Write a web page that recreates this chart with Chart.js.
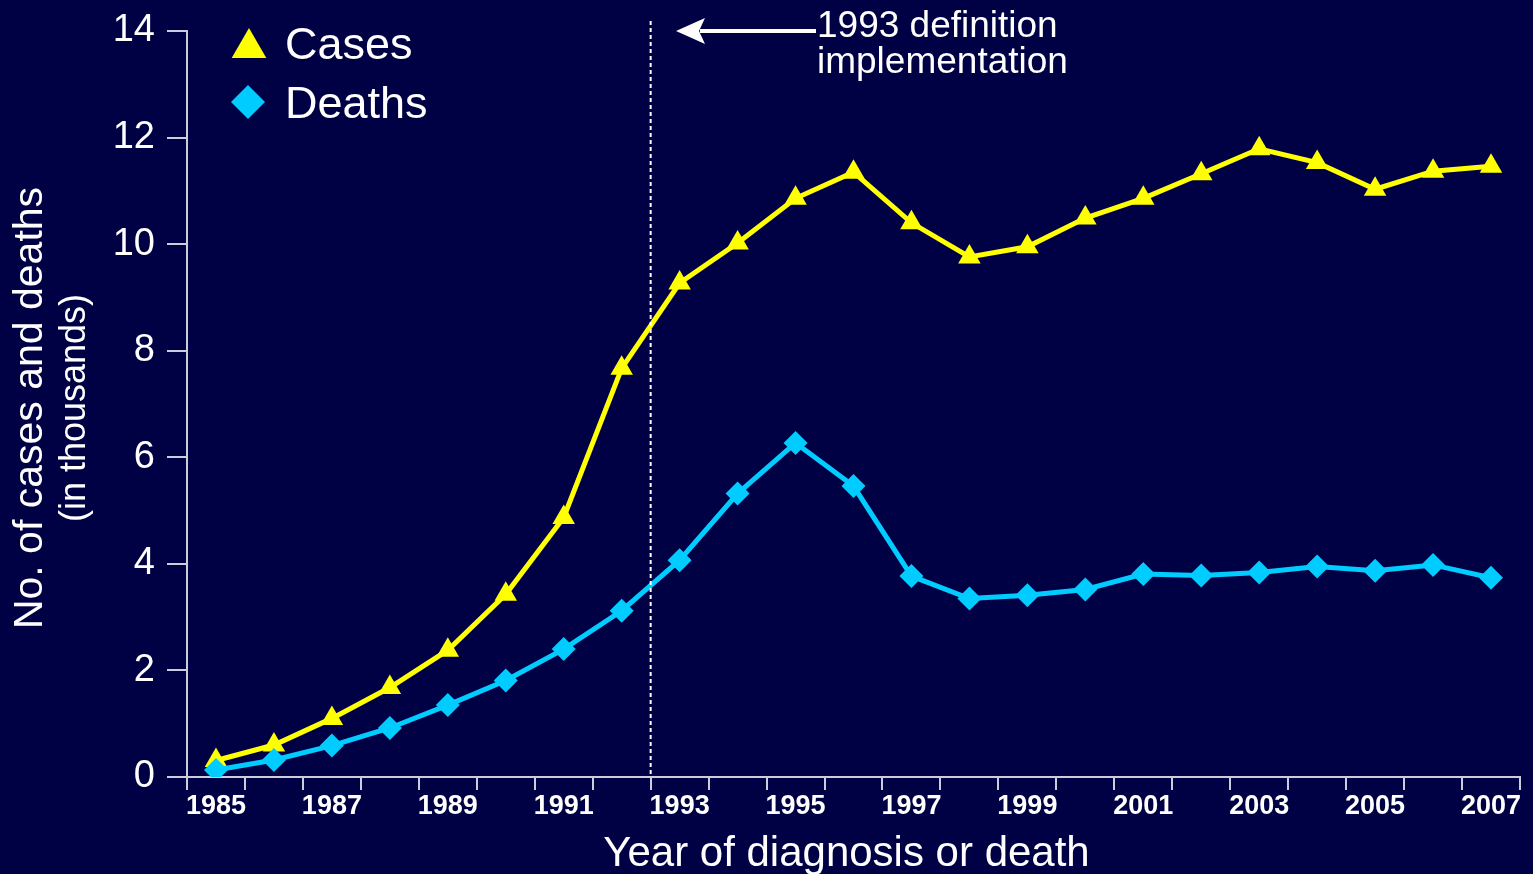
<!DOCTYPE html>
<html>
<head>
<meta charset="utf-8">
<script src="https://cdn.jsdelivr.net/npm/chart.js@4"></script>
<style>
  html, body { margin: 0; padding: 0; background: #000044; }
  canvas { display: block; }
</style>
</head>
<body>
<canvas id="c" width="1533" height="874"></canvas>
<script>
// ---- data ----
const years = ['1985','1986','1987','1988','1989','1990','1991','1992','1993','1994','1995','1996',
               '1997','1998','1999','2000','2001','2002','2003','2004','2005','2006','2007'];
const cases  = [0.31, 0.6, 1.1, 1.68, 2.38, 3.43, 4.87, 7.67, 9.27, 10.02, 10.86, 11.35,
                10.4, 9.76, 9.95, 10.49, 10.86, 11.32, 11.79, 11.53, 11.03, 11.37, 11.46];
const deaths = [0.13, 0.32, 0.59, 0.92, 1.35, 1.81, 2.4, 3.12, 4.07, 5.32, 6.27, 5.46,
                3.77, 3.35, 3.41, 3.52, 3.81, 3.78, 3.84, 3.95, 3.87, 3.98, 3.74];
const yTicks = [0, 2, 4, 6, 8, 10, 12, 14];
const seriesNames = ['Cases', 'Deaths'];
const definitionYear = '1993';
const annotationLines = ['1993 definition', 'implementation'];
const xTitle = 'Year of diagnosis or death';
const yTitleLines = ['No. of cases and deaths', '(in thousands)'];

// ---- style ----
const BG = '#000044';
const YELLOW = '#ffff00';
const CYAN = '#00ccff';
const AXIS = '#ccccdd';
const FONT = '"Liberation Sans", Arial, Helvetica, sans-serif';

function drawMarker(ctx, style, x, y, r, color) {
  ctx.save();
  ctx.fillStyle = color;
  ctx.beginPath();
  if (style === 'triangle') {
    ctx.moveTo(x, y - r);
    ctx.lineTo(x + r * Math.sin(2 * Math.PI / 3), y - r * Math.cos(2 * Math.PI / 3));
    ctx.lineTo(x + r * Math.sin(4 * Math.PI / 3), y - r * Math.cos(4 * Math.PI / 3));
  } else {
    ctx.moveTo(x - r, y);
    ctx.lineTo(x, y - r);
    ctx.lineTo(x + r, y);
    ctx.lineTo(x, y + r);
  }
  ctx.closePath();
  ctx.fill();
  ctx.restore();
}

const decor = {
  id: 'decor',
  beforeDraw(chart) {
    const ctx = chart.ctx;
    ctx.save();
    ctx.fillStyle = BG;
    ctx.fillRect(0, 0, chart.width, chart.height);
    ctx.restore();
  },
  afterDraw(chart) {
    const ctx = chart.ctx;
    const xs = chart.scales.x;
    const area = chart.chartArea;
    const idx = years.indexOf(definitionYear);
    const xd = (xs.getPixelForValue(idx - 1) + xs.getPixelForValue(idx)) / 2;

    // dashed vertical line
    ctx.save();
    ctx.strokeStyle = '#ffffff';
    ctx.lineWidth = 2;
    ctx.setLineDash([4, 3]);
    ctx.beginPath();
    ctx.moveTo(xd, 21);
    ctx.lineTo(xd, area.bottom);
    ctx.stroke();
    ctx.restore();

    // arrow
    ctx.save();
    ctx.strokeStyle = '#ffffff';
    ctx.fillStyle = '#ffffff';
    ctx.lineWidth = 4;
    ctx.beginPath();
    ctx.moveTo(700, 31);
    ctx.lineTo(816, 31);
    ctx.stroke();
    ctx.beginPath();
    ctx.moveTo(676, 31);
    ctx.lineTo(705, 18);
    ctx.lineTo(699, 31);
    ctx.lineTo(705, 44);
    ctx.closePath();
    ctx.fill();
    ctx.restore();

    // annotation text
    ctx.save();
    ctx.fillStyle = '#ffffff';
    ctx.font = '37px ' + FONT;
    ctx.textAlign = 'left';
    ctx.textBaseline = 'alphabetic';
    ctx.fillText(annotationLines[0], 817, 37);
    ctx.fillText(annotationLines[1], 817, 73);
    ctx.restore();

    // legend
    ctx.save();
    drawMarker(ctx, 'triangle', 249, 48, 20, YELLOW);
    drawMarker(ctx, 'diamond', 248, 102, 17, CYAN);
    ctx.fillStyle = '#ffffff';
    ctx.font = '45px ' + FONT;
    ctx.textBaseline = 'alphabetic';
    ctx.fillText(seriesNames[0], 285, 59);
    ctx.fillText(seriesNames[1], 285, 118);
    ctx.restore();

    // x title
    ctx.save();
    ctx.fillStyle = '#ffffff';
    ctx.font = '42px ' + FONT;
    ctx.textAlign = 'center';
    ctx.textBaseline = 'alphabetic';
    ctx.fillText(xTitle, (area.left + area.right) / 2 - 7, 866);
    ctx.restore();

    // y title
    ctx.save();
    ctx.fillStyle = '#ffffff';
    ctx.textAlign = 'center';
    ctx.textBaseline = 'middle';
    ctx.translate(31, 408);
    ctx.rotate(-Math.PI / 2);
    ctx.font = '41px ' + FONT;
    ctx.fillText(yTitleLines[0], 0, 0);
    ctx.font = '36px ' + FONT;
    ctx.fillText(yTitleLines[1], 0, 44);
    ctx.restore();
  }
};

new Chart(document.getElementById('c'), {
  type: 'line',
  data: {
    labels: years,
    datasets: [
      {
        label: seriesNames[0],
        data: cases,
        borderColor: YELLOW,
        backgroundColor: YELLOW,
        borderWidth: 5,
        pointStyle: 'triangle',
        pointRadius: 13,
        pointBorderWidth: 0,
        pointBackgroundColor: YELLOW,
        tension: 0,
        order: 2
      },
      {
        label: seriesNames[1],
        data: deaths,
        borderColor: CYAN,
        backgroundColor: CYAN,
        borderWidth: 5,
        pointStyle: 'rectRot',
        pointRadius: 12,
        pointBorderWidth: 0,
        pointBackgroundColor: CYAN,
        tension: 0,
        order: 1
      }
    ]
  },
  options: {
    responsive: false,
    animation: false,
    devicePixelRatio: 1,
    layout: { padding: { top: 31, right: 13, bottom: 0, left: 0 } },
    plugins: { legend: { display: false }, tooltip: { enabled: false } },
    scales: {
      x: {
        type: 'category',
        offset: true,
        grid: { offset: true, drawOnChartArea: false, drawTicks: true, tickLength: 13, color: AXIS, lineWidth: 2 },
        border: { display: true, color: AXIS, width: 2 },
        ticks: {
          autoSkip: false, maxRotation: 0, minRotation: 0, padding: 0,
          color: '#ffffff',
          font: { family: FONT, size: 27, weight: 'bold' },
          callback: (v, i) => (i % 2 === 0 ? years[i] : '')
        },
        afterFit: s => { s.height = 97; }
      },
      y: {
        min: 0, max: 14,
        afterBuildTicks: s => { s.ticks = yTicks.map(v => ({ value: v })); },
        grid: { drawOnChartArea: false, drawTicks: true, tickLength: 20, color: AXIS, lineWidth: 2 },
        border: { display: true, color: AXIS, width: 2 },
        ticks: {
          padding: 12,
          color: '#ffffff',
          font: { family: FONT, size: 38, lineHeight: 1 }
        },
        afterFit: s => { s.width = 187; }
      }
    }
  },
  plugins: [decor]
});
</script>
</body>
</html>
